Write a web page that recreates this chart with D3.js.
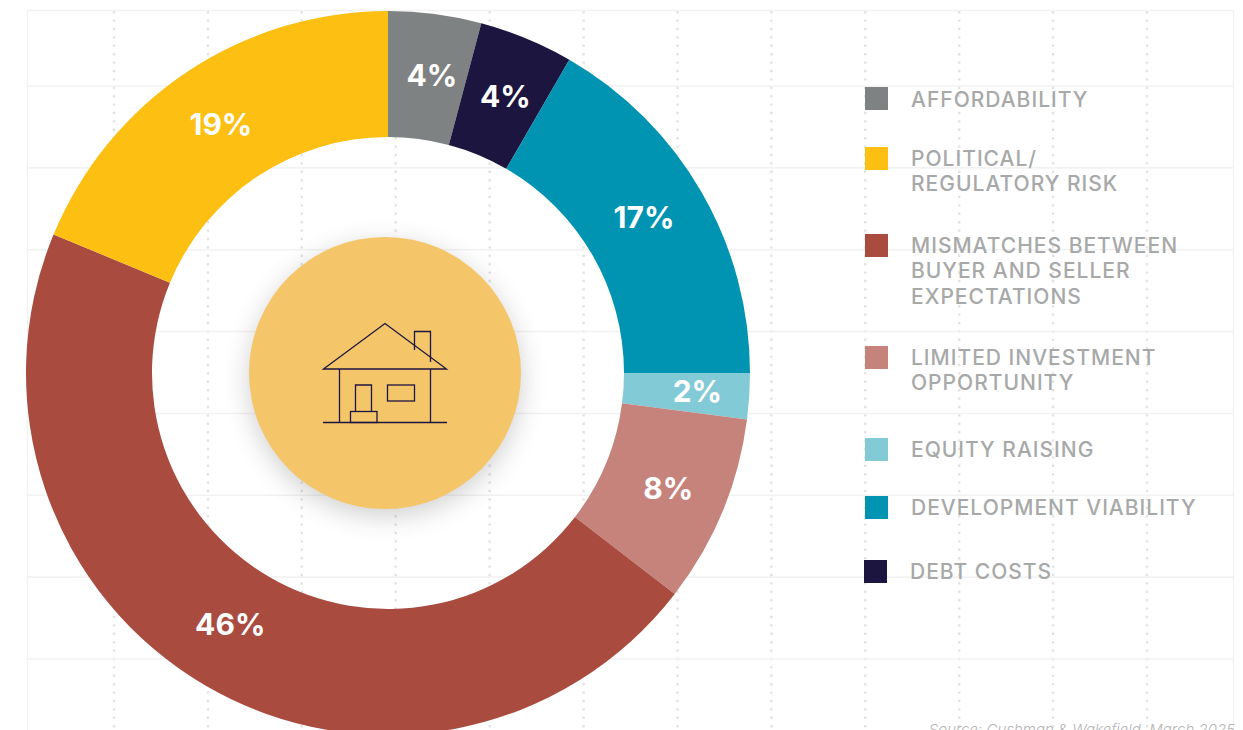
<!DOCTYPE html>
<html>
<head>
<meta charset="utf-8">
<script src="https://cdn.jsdelivr.net/npm/d3@7"></script>
<style>
html, body { margin: 0; padding: 0; background: #fff; overflow: hidden; }
text { font-family: Inter, "Noto Sans", sans-serif; }
</style>
</head>
<body>
<div id="chart"></div>
<script>
const width = 1243, height = 730;

const categories = ["Affordability", "Debt costs", "Development viability", "Equity raising",
  "Limited investment opportunity", "Mismatches", "Political/regulatory risk"];
const shares = [4.15, 4.2, 16.65, 2.05, 8.4, 45.8, 18.75];
const colors = ["#7f8282", "#1c1540", "#0093b2", "#82cad6", "#c6837c", "#a94c3f", "#fdbf11"];

// legend, top to bottom
const legendKeys = ["Affordability", "Political/regulatory risk", "Mismatches",
  "Limited investment opportunity", "Equity raising", "Development viability", "Debt costs"];
const legendLines = [
  ["AFFORDABILITY"],
  ["POLITICAL/", "REGULATORY RISK"],
  ["MISMATCHES BETWEEN", "BUYER AND SELLER", "EXPECTATIONS"],
  ["LIMITED INVESTMENT", "OPPORTUNITY"],
  ["EQUITY RAISING"],
  ["DEVELOPMENT VIABILITY"],
  ["DEBT COSTS"]
];
const legendTops = [87, 147, 234, 346, 438, 496, 560];

// background grid
const gridRows = d3.range(0, 8);
const gridCols = d3.range(0, 12);

const svg = d3.select("#chart").append("svg")
    .attr("width", width)
    .attr("height", height)
    .style("display", "block");

const defs = svg.append("defs");
const blur = defs.append("filter").attr("id", "soft")
    .attr("x", "-40%").attr("y", "-40%").attr("width", "180%").attr("height", "180%");
blur.append("feGaussianBlur").attr("stdDeviation", 14);

// grid
const yGrid = d3.scaleLinear().domain([0, 7]).range([86, 659]);
const xGrid = d3.scaleLinear().domain([0, 11]).range([114, 1147]);
const grid = svg.append("g");

grid.selectAll("line.col").data(gridCols).enter().append("line")
    .attr("class", "col")
    .attr("x1", d => xGrid(d)).attr("x2", d => xGrid(d))
    .attr("y1", 11).attr("y2", height)
    .attr("stroke", "#e3e3e3")
    .attr("stroke-width", 2.4)
    .attr("stroke-dasharray", "2.4 6");

grid.selectAll("line.row").data(gridRows).enter().append("line")
    .attr("class", "row")
    .attr("x1", 27).attr("x2", 1233)
    .attr("y1", d => yGrid(d)).attr("y2", d => yGrid(d))
    .attr("stroke", "#f2f2f2")
    .attr("stroke-width", 1.6);

grid.append("path")
    .attr("d", "M27.5," + height + "V10.5H1233.5V" + height)
    .attr("fill", "none")
    .attr("stroke", "#f2f2f2")
    .attr("stroke-width", 1.4);

// ring
const cx = 388, cy = 373;
const pie = d3.pie().sort(null).value(d => d);
const arc = d3.arc().innerRadius(236).outerRadius(362);
const arcs = pie(shares);
const ring = svg.append("g").attr("transform", "translate(" + cx + "," + cy + ")");

ring.selectAll("path").data(arcs).enter().append("path")
    .attr("d", arc)
    .attr("fill", (d, i) => colors[i]);

// labels sit roughly on the ring centre, a few were moved by hand in the original
const nudges = [[5, -1], [3, -1], [-3, -6], [11, -1], [4, 1], [-8, -8], [-1, 0]];
const fmt = d3.format(".0f");
ring.selectAll("text").data(arcs).enter().append("text")
    .attr("x", (d, i) => arc.centroid(d)[0] + nudges[i][0])
    .attr("y", (d, i) => arc.centroid(d)[1] + nudges[i][1])
    .attr("text-anchor", "middle")
    .attr("dy", "0.36em")
    .attr("fill", "#fff")
    .attr("font-size", 30)
    .attr("font-weight", 700)
    .text(d => fmt(d.data) + "%");

// centre disc with soft shadow
svg.append("circle")
    .attr("cx", 385).attr("cy", 380).attr("r", 135)
    .attr("fill", "#000").attr("opacity", 0.2)
    .attr("filter", "url(#soft)");
svg.append("circle")
    .attr("cx", 385).attr("cy", 373).attr("r", 136)
    .attr("fill", "#f5c669");

// house icon
const house = svg.append("g")
    .attr("fill", "none")
    .attr("stroke", "#1c1540")
    .attr("stroke-width", 1.3);
house.append("path").attr("d", "M323.5,369L385,323.5L446.5,369Z");
house.append("path").attr("d", "M414.5,350V331.5H430.5V362");
house.append("path").attr("d", "M339.5,369V422.5M430.5,369V422.5");
house.append("path").attr("d", "M323,422.5H447");
house.append("path").attr("d", "M355.5,411.5V385H371.5V411.5");
house.append("rect").attr("x", 350.5).attr("y", 411.5).attr("width", 26.5).attr("height", 11);
house.append("rect").attr("x", 387.5).attr("y", 385).attr("width", 27).attr("height", 16);

// legend
const color = d3.scaleOrdinal().domain(categories).range(colors);
const legend = svg.append("g").selectAll("g").data(legendKeys).enter().append("g")
    .attr("transform", (d, i) => "translate(" + (i === 6 ? 864 : 865) + "," + legendTops[i] + ")");

legend.append("rect")
    .attr("width", 23).attr("height", 23)
    .attr("fill", d => color(d));

legend.each(function(d, i) {
  d3.select(this).selectAll("text").data(legendLines[i]).enter().append("text")
      .attr("x", 46)
      .attr("y", (t, j) => (i === 0 ? 20 : 18.5) + j * 25.6)
      .attr("fill", "#a7a9a9")
      .attr("font-size", 21)
      .attr("font-weight", 500)
      .attr("letter-spacing", 1)
      .text(t => t);
});

// source, cut off by the bottom edge
svg.append("text")
    .attr("x", 1235).attr("y", 735)
    .attr("text-anchor", "end")
    .attr("fill", "#b5b5b5")
    .attr("font-size", 15)
    .attr("font-style", "italic")
    .attr("font-weight", 300)
    .text("Source: Cushman & Wakefield, March 2025");
</script>
</body>
</html>
